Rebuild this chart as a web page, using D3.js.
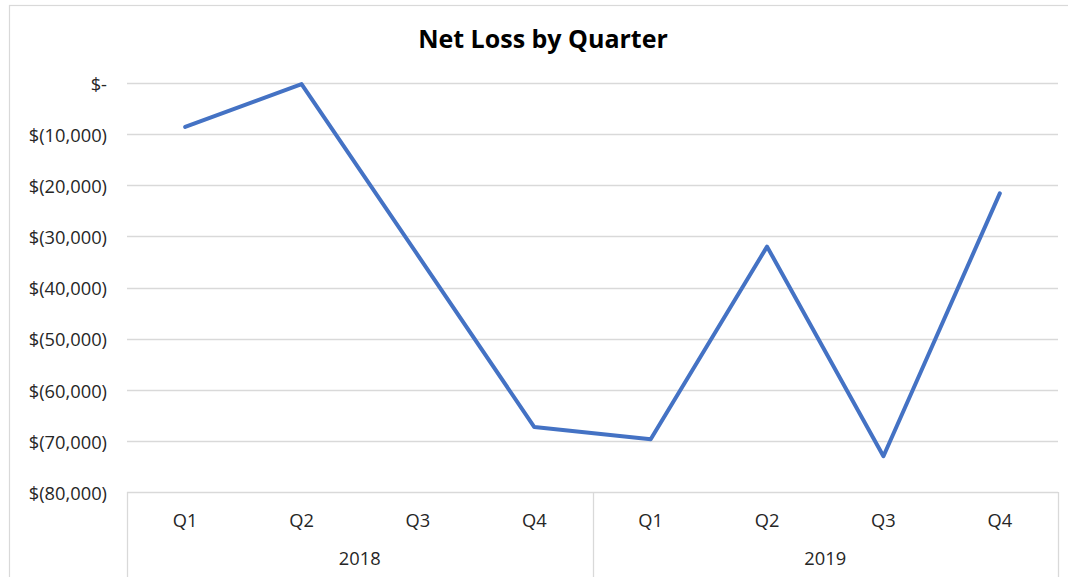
<!DOCTYPE html>
<html>
<head>
<meta charset="utf-8">
<script src="https://cdn.jsdelivr.net/npm/d3@7"></script>
<style>
  html, body { margin: 0; padding: 0; background: #fff; }
  svg { display: block; }
  text { font-family: "Open Sans", "Liberation Sans", sans-serif; fill: #262626; }
</style>
</head>
<body>
<svg id="chart" width="1068" height="577"></svg>
<script>
// Net loss per quarter, two fiscal years
const years = ["2018", "2019"];
const quarters = ["Q1", "Q2", "Q3", "Q4"];
const netLoss = [-8600, -200, -33700, -67300, -69700, -32000, -73000, -21600];
const yTicks = [0, -10000, -20000, -30000, -40000, -50000, -60000, -70000, -80000];

const svg = d3.select("#chart");
const W = 1068, H = 577;
const plot = { left: 127, right: 1058, top: 83, bottom: 492 };
const labelSize = "18.3px";

// chart frame
svg.append("rect")
  .attr("x", 9.5).attr("y", 5.5)
  .attr("width", 1080).attr("height", 590)
  .attr("fill", "#fff").attr("stroke", "#d9d9d9").attr("stroke-width", 1.2);

svg.append("text")
  .attr("x", 543).attr("y", 48)
  .attr("text-anchor", "middle")
  .style("font-size", "25px").style("font-weight", "bold").style("fill", "#000")
  .text("Net Loss by Quarter");

const categories = [];
years.forEach(y => quarters.forEach(q => categories.push(y + " " + q)));

const x = d3.scaleBand().domain(categories).range([plot.left, plot.right]);
const y = d3.scaleLinear().domain([-80000, 0]).range([plot.bottom, plot.top]);

const fmt = v => v === 0 ? "$-" : "$(" + d3.format(",")(Math.abs(v)) + ")";

// horizontal gridlines
svg.append("g")
  .selectAll("line").data(yTicks).join("line")
  .attr("x1", plot.left).attr("x2", plot.right)
  .attr("y1", d => Math.round(y(d)) + 0.5).attr("y2", d => Math.round(y(d)) + 0.5)
  .attr("stroke", "#d9d9d9").attr("stroke-width", 1.3);

// y axis labels
const yAxis = d3.axisLeft(y).tickValues(yTicks).tickFormat(fmt).tickSize(0).tickPadding(20);
const yg = svg.append("g").attr("transform", `translate(${plot.left},0)`).call(yAxis);
yg.select(".domain").remove();
yg.selectAll("text")
  .attr("dy", "0.4em")
  .style("font-size", labelSize)
  .style("font-family", "'Open Sans', 'Liberation Sans', sans-serif")
  .attr("fill", "#262626");

// category axis: quarter row and year row with dividers
const divs = [plot.left, x(years[1] + " Q1"), plot.right];
svg.append("g").selectAll("line").data(divs).join("line")
  .attr("x1", d => Math.round(d) + 0.5).attr("x2", d => Math.round(d) + 0.5)
  .attr("y1", plot.bottom).attr("y2", H)
  .attr("stroke", "#d9d9d9").attr("stroke-width", 1.3);

svg.append("g").selectAll("text").data(categories).join("text")
  .attr("x", d => x(d) + x.bandwidth() / 2)
  .attr("y", 527)
  .attr("text-anchor", "middle")
  .style("font-size", labelSize)
  .text(d => d.split(" ")[1]);

svg.append("g").selectAll("text").data(years).join("text")
  .attr("x", (d, i) => (divs[i] + divs[i + 1]) / 2)
  .attr("y", 565)
  .attr("text-anchor", "middle")
  .style("font-size", labelSize)
  .text(d => d);

// series line
const line = d3.line()
  .x((d, i) => x(categories[i]) + x.bandwidth() / 2)
  .y(d => y(d));

svg.append("path")
  .datum(netLoss)
  .attr("d", line)
  .attr("fill", "none")
  .attr("stroke", "#4472C4")
  .attr("stroke-width", 4)
  .attr("stroke-linejoin", "round")
  .attr("stroke-linecap", "round");
</script>
</body>
</html>
